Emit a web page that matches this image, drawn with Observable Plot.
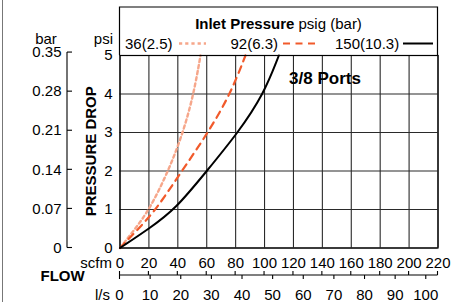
<!DOCTYPE html>
<html><head><meta charset="utf-8">
<script src="https://cdn.jsdelivr.net/npm/d3@7"></script>
<script src="https://cdn.jsdelivr.net/npm/@observablehq/plot@0.6"></script>
<style>
body{margin:0;background:#fff}
svg{font-family:"Liberation Sans",Arial,Helvetica,sans-serif}
</style>
</head><body><div id="chart"></div>
<script>
// ---- data ----
const scfmTicks = [0,20,40,60,80,100,120,140,160,180,200,220];
const lsTicks = [0,10,20,30,40,50,60,70,80,90,100];
const psiTicks = [0,1,2,3,4,5];
const barTicks = [0,0.07,0.14,0.21,0.28,0.35];
const barLabels = ["0","0.07","0.14","0.21","0.28","0.35"];
const PSI_PER_BAR = 14.5038;
const SCFM_PER_LS = 2.11888;
const seriesNames = ["36(2.5)","92(6.3)","150(10.3)"];
const seriesColors = ["#f6a68a","#f15a2b","#000000"];
const psiPoints = [0,0.5,1,2,3,4,5];
const flow36 = [0,10.5,20.4,33.5,43.7,51,55.7];
const flow92 = [0,12.8,25,42.8,61,76.4,86.8];
const flow150 = [0,20,38.2,60,81.8,99.5,109.9];
const titleBold = "Inlet Pressure";
const titleRest = " psig (bar)";
const portLabel = "3/8 Ports";

const toRows = (flows) => flows.map((f,i) => ({flow:f, psi:psiPoints[i]}));
const d36 = toRows(flow36), d92 = toRows(flow92), d150 = toRows(flow150);
const dashes = ["3.2,3", "7,5.5", null];
const widths = [2.4, 2.2, 2];

const plot = Plot.plot({
  width: 451, height: 302,
  marginLeft: 119.5, marginRight: 13.5, marginTop: 55, marginBottom: 54.5,
  x: {domain: [0,220]},
  y: {domain: [0,5]},
  style: {fontFamily: '"Liberation Sans",Arial,sans-serif', fontSize: "15px", color: "#000", background: "#fff", overflow: "visible"},
  marks: [
    Plot.ruleX(scfmTicks, {stroke: "#2a2a2a", strokeWidth: 1.1}),
    Plot.ruleY(psiTicks, {stroke: "#2a2a2a", strokeWidth: 1.1}),
    Plot.axisX(scfmTicks, {anchor: "bottom", tickSize: 0, tickPadding: 9, label: null, fontSize: 15}),
    Plot.axisY(psiTicks, {anchor: "left", tickSize: 0, tickPadding: 7.5, label: null, fontSize: 15}),
    Plot.line(d36, {x: "flow", y: "psi", stroke: seriesColors[0], strokeWidth: widths[0], strokeDasharray: dashes[0], curve: "basis"}),
    Plot.line(d92, {x: "flow", y: "psi", stroke: seriesColors[1], strokeWidth: widths[1], strokeDasharray: dashes[1], curve: "basis"}),
    Plot.line(d150, {x: "flow", y: "psi", stroke: seriesColors[2], strokeWidth: widths[2], curve: "basis"}),
    Plot.frame({stroke: "#000", strokeWidth: 1.2}),
    Plot.text([portLabel], {x: 117, y: 4.4, text: d => d, textAnchor: "start", fontWeight: "bold", fontSize: 17})
  ]
});

const svg = d3.select(plot);
const x = plot.scale("x"), y = plot.scale("y");
const X = v => x.apply(v), Y = v => y.apply(v);
const g = svg.append("g").attr("fill", "#000").attr("font-size", 15).attr("text-anchor", "start");

// outer left border
g.append("line").attr("x1", 2.5).attr("x2", 2.5).attr("y1", 0).attr("y2", 302).attr("stroke", "#777").attr("stroke-width", 1);

// legend box
const boxTop = 7;
g.append("path").attr("d", `M${X(0)},${Y(5)}V${boxTop}H${X(220)}V${Y(5)}`).attr("fill", "none").attr("stroke", "#000").attr("stroke-width", 1.2);
const title = g.append("text").attr("x", (X(0)+X(220))/2).attr("y", 24).attr("dy", "0.35em").attr("text-anchor", "middle");
title.append("tspan").attr("font-weight", "bold").text(titleBold);
title.append("tspan").text(titleRest);

const legX = [125, 230.5, 335];
const sampleX = [[179, 206], [283, 320], [403, 433]];
seriesNames.forEach((name, i) => {
  g.append("text").attr("x", legX[i]).attr("y", 43.5).attr("dy", "0.35em").attr("text-anchor", "start").text(name);
  const l = g.append("line").attr("x1", sampleX[i][0]).attr("x2", sampleX[i][1]).attr("y1", 43.5).attr("y2", 43.5)
    .attr("stroke", seriesColors[i]).attr("stroke-width", widths[i]);
  if (dashes[i]) l.attr("stroke-dasharray", dashes[i]);
});

// left headers
g.append("text").attr("x", 113).attr("y", 38.5).attr("dy", "0.35em").attr("text-anchor", "end").text("psi");
g.append("text").attr("x", 46).attr("y", 38.5).attr("dy", "0.35em").attr("text-anchor", "middle").text("bar");

// bar axis
const barX = 67;
g.append("line").attr("x1", barX).attr("x2", barX).attr("y1", Y(0)).attr("y2", Y(0.35*PSI_PER_BAR)).attr("stroke", "#000").attr("stroke-width", 1.1);
barTicks.forEach((b, i) => {
  const yy = Y(b*PSI_PER_BAR);
  g.append("line").attr("x1", barX).attr("x2", barX+5).attr("y1", yy).attr("y2", yy).attr("stroke", "#000").attr("stroke-width", 1.1);
  g.append("text").attr("x", 61.5).attr("y", yy).attr("dy", "0.35em").attr("text-anchor", "end").text(barLabels[i]);
});

// vertical axis title
g.append("text").attr("transform", `translate(91,${(Y(0)+Y(5))/2}) rotate(-90)`).attr("dy", "0.35em")
  .attr("text-anchor", "middle").attr("font-weight", "bold").text("PRESSURE DROP");

// flow axis
const flowY = 275;
g.append("line").attr("x1", X(0)).attr("x2", X(220)).attr("y1", flowY).attr("y2", flowY).attr("stroke", "#000").attr("stroke-width", 1.1);
scfmTicks.forEach(v => {
  g.append("line").attr("x1", X(v)).attr("x2", X(v)).attr("y1", flowY-4).attr("y2", flowY).attr("stroke", "#000").attr("stroke-width", 1.1);
});
lsTicks.forEach(v => {
  const xx = X(v*SCFM_PER_LS);
  g.append("line").attr("x1", xx).attr("x2", xx).attr("y1", flowY).attr("y2", flowY+4).attr("stroke", "#000").attr("stroke-width", 1.1);
  g.append("text").attr("x", xx).attr("y", 295).attr("dy", "0.35em").attr("text-anchor", "middle").text(v);
});
g.append("text").attr("x", 112).attr("y", 262.5).attr("dy", "0.35em").attr("text-anchor", "end").text("scfm");
g.append("text").attr("x", 110).attr("y", 295).attr("dy", "0.35em").attr("text-anchor", "end").text("l/s");
g.append("text").attr("x", 40.5).attr("y", 276).attr("dy", "0.35em").attr("text-anchor", "start").attr("font-weight", "bold").text("FLOW");

document.getElementById("chart").appendChild(plot);
</script>
</body></html>
